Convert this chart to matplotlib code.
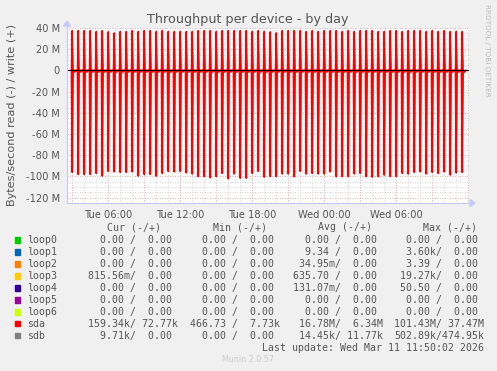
import matplotlib
matplotlib.use('Agg')
import matplotlib.pyplot as plt
from matplotlib.lines import Line2D
from matplotlib.patches import Polygon, Rectangle

W, H = 497, 371

# spikes every 30 min, first one at Tue 03:01:30 (hours since Tue 00:00)
first_spike = 3.025
spike_step = 0.5

# write (+) peaks of sda, MB/s
write_peaks = [37.5, 37.5, 37.5, 37.5, 36.6, 37.5, 36.3, 35.3, 36.6, 36.6,
               37.5, 36.6, 37.5, 37.5, 36.6, 37.5, 36.6, 36.6, 36.6, 36.6,
               36.6, 37.5, 37.5, 37.5, 36.6, 37.5, 37.5, 37.5, 37.5, 37.5,
               36.6, 37.5, 36.6, 36.3, 35.3, 37.5, 37.5, 37.5, 37.5, 36.6,
               37.5, 36.6, 37.5, 37.5, 37.5, 36.6, 37.5, 36.6, 37.5, 37.5,
               37.5, 36.6, 36.6, 37.5, 37.5, 36.6, 37.5, 37.5, 37.5, 36.6,
               37.5, 36.6, 37.5, 36.6, 36.6, 36.6]

# read (-) peaks of sda, MB/s
read_peaks = [-96, -98, -98, -98, -97, -99.5, -95, -95.5, -96, -96,
              -95.5, -99.5, -98, -98, -99.5, -97, -95, -95.5, -95, -96.5,
              -97.5, -100, -100, -101, -100, -97, -102, -97.5, -101.5, -101.5,
              -97, -95, -100.5, -100, -100, -97.5, -97.5, -100, -95, -97.5,
              -97, -97.5, -97.5, -95.5, -100, -100, -100, -97.5, -97, -100,
              -100.5, -100, -98.5, -100, -100, -97, -97.5, -96, -95.5, -97.5,
              -96, -97, -95.5, -98.5, -96.5, -96]
read_dip = -1.5  # small read dip between spikes, MB/s

tick_hours = [6, 12, 18, 24, 30]
tick_labels = ['Tue 06:00', 'Tue 12:00', 'Tue 18:00', 'Wed 00:00', 'Wed 06:00']

devices = ['loop0', 'loop1', 'loop2', 'loop3', 'loop4', 'loop5', 'loop6', 'sda', 'sdb']
colors = ['#00CC00', '#0066B3', '#FF8000', '#FFCC00', '#330099', '#990099',
          '#CCFF00', '#FF0000', '#808080']
cur = ['  0.00 /  0.00 ', '  0.00 /  0.00 ', '  0.00 /  0.00 ', '815.56m/  0.00 ',
       '  0.00 /  0.00 ', '  0.00 /  0.00 ', '  0.00 /  0.00 ', '159.34k/ 72.77k',
       '  9.71k/  0.00 ']
mins = ['  0.00 /  0.00 '] * 7 + ['466.73 /  7.73k', '  0.00 /  0.00 ']
avgs = ['  0.00 /  0.00 ', '  9.34 /  0.00 ', ' 34.95m/  0.00 ', '635.70 /  0.00 ',
        '131.07m/  0.00 ', '  0.00 /  0.00 ', '  0.00 /  0.00 ', ' 16.78M/  6.34M',
        ' 14.45k/ 11.77k']
maxs = ['  0.00 /  0.00 ', '  3.60k/  0.00 ', '  3.39 /  0.00 ', ' 19.27k/  0.00 ',
        ' 50.50 /  0.00 ', '  0.00 /  0.00 ', '  0.00 /  0.00 ', '101.43M/ 37.47M',
        '502.89k/474.95k']


def fx(x):
    return x / W


def fy(y):
    return 1 - y / H


fig = plt.figure(figsize=(W / 100, H / 100), dpi=100, facecolor='#F0F0F0')
ax = fig.add_axes([fx(67), fy(203), 402 / W, 175 / H])
ax.set_facecolor('white')
ax.set_xlim(2.583, 36.083)
ax.set_ylim(-125e6, 40e6)

# grid
for v in range(-125, 41, 5):
    if v % 20 == 0:
        ax.axhline(v * 1e6, color='#E89090', lw=0.6, ls=(0, (1, 2)), zorder=1)
    else:
        ax.axhline(v * 1e6, color='#CCCCCC', lw=0.6, ls=(0, (1, 2)), zorder=1)
for h in range(3, 37):
    if h % 3 == 0:
        ax.axvline(h, color='#E89090', lw=0.6, ls=(0, (1, 2)), zorder=1)
    else:
        ax.axvline(h, color='#CCCCCC', lw=0.6, ls=(0, (1, 2)), zorder=1)

# sda series
hw = 1 / 16
wx, wy, rx, ry = [], [], [], []
for i, (wp, rp) in enumerate(zip(write_peaks, read_peaks)):
    t = first_spike + i * spike_step
    wx += [t - hw, t, t + hw]
    wy += [0, wp * 1e6, 0]
    rx += [t - hw, t, t + hw, t + 0.2, t + 0.3]
    ry += [0, rp * 1e6, 0, read_dip * 1e6, 0]
ax.plot(wx, wy, color='#FF0000', lw=1.2, zorder=3)
ax.plot(rx, ry, color='#FF0000', lw=1.3, zorder=3)
ax.axhline(0, color='black', lw=0.8, zorder=4)

ax.set_xticks(tick_hours)
ax.set_xticklabels(tick_labels)
yt = list(range(-120, 41, 20))
ax.set_yticks([v * 1e6 for v in yt])
ax.set_yticklabels([('%d M' % v) if v != 0 else '0' for v in yt])
ax.tick_params(length=0, labelsize=7.1, colors='#555555', pad=5)
for s in ax.spines.values():
    s.set_visible(False)

# axes with arrows
axis_col = '#C8C8F8'
fig.add_artist(Line2D([fx(67), fx(472)], [fy(203), fy(203)], color=axis_col, lw=0.8))
fig.add_artist(Line2D([fx(67), fx(67)], [fy(203), fy(24)], color=axis_col, lw=0.8))
fig.add_artist(Polygon([[fx(470), fy(199.5)], [fx(475), fy(203)], [fx(470), fy(206.5)]],
                       closed=True, color=axis_col, transform=fig.transFigure))
fig.add_artist(Polygon([[fx(63.5), fy(26)], [fx(67), fy(21)], [fx(70.5), fy(26)]],
                       closed=True, color=axis_col, transform=fig.transFigure))

fig.text(fx(248), fy(19), 'Throughput per device - by day', ha='center', va='center',
         fontsize=9.2, color='#555555')
fig.text(fx(12), fy(115), 'Bytes/second read (-) / write (+)', rotation=90,
         ha='center', va='center', fontsize=8.1, color='#555555')
fig.text(fx(487), fy(4), 'RRDTOOL / TOBI OETIKER', rotation=270, ha='center', va='top',
         fontsize=5.2, color='#BBBBBB')

mono = 'DejaVu Sans Mono'
fs = 7.1
heads = [('Cur (-/+)', 107.3), ('Min (-/+)', 212.7), ('Avg (-/+)', 318.3), ('Max (-/+)', 422.7)]
for txt, x in heads:
    fig.text(fx(x), fy(227.3), txt, ha='left', va='center', family=mono, fontsize=fs,
             color='#555555')

col_x = [87.5, 189.5, 293.0, 394.5]
for i, name in enumerate(devices):
    y = 240 + i * 11.95
    fig.add_artist(Rectangle((fx(14.5), fy(y + 2.8)), 5.5 / W, 5.5 / H, color=colors[i],
                             transform=fig.transFigure))
    fig.text(fx(26.7), fy(y), name, ha='left', va='center', family=mono, fontsize=fs,
             color='#555555')
    for x, col in zip(col_x, [cur, mins, avgs, maxs]):
        fig.text(fx(x), fy(y), col[i], ha='left', va='center', family=mono, fontsize=fs,
                 color='#555555')

fig.text(fx(261.7), fy(348), 'Last update: Wed Mar 11 11:50:02 2026', ha='left',
         va='center', family=mono, fontsize=fs, color='#555555')
fig.text(fx(248), fy(360), 'Munin 2.0.57', ha='center', va='center', fontsize=5.8,
         color='#CCCCCC')

fig.savefig('out.png', dpi=100, facecolor=fig.get_facecolor())
